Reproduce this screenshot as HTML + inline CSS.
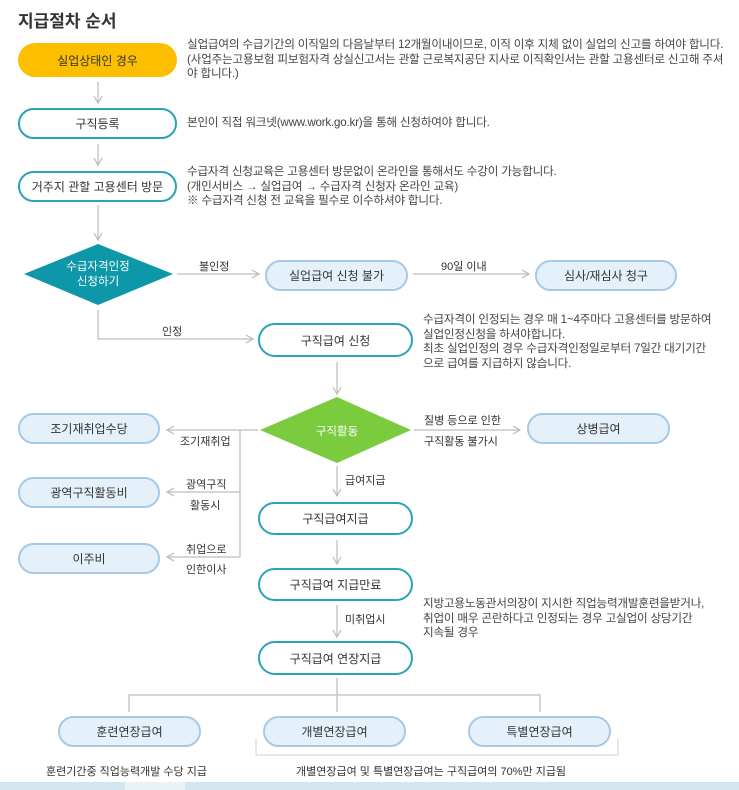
<!DOCTYPE html>
<html><head><meta charset="utf-8"><style>
body{margin:0;width:739px;height:790px;background:#fff;position:relative;overflow:hidden;font-family:"Liberation Sans","Noto Sans CJK KR",sans-serif;color:#333}
.b{position:absolute;box-sizing:border-box;border-radius:17px;display:flex;align-items:center;justify-content:center;font-size:12px;color:#333}
.w{border:2px solid #2aa3b8;background:#fff}
.l{border:2px solid #a7c8e6;background:#e4f1fa}
.t{position:absolute;font-size:11.6px;line-height:14.5px;color:#444;white-space:nowrap;letter-spacing:-0.2px}
.s{position:absolute;font-size:11px;color:#333;white-space:nowrap}
</style></head><body>
<div style="position:absolute;left:18px;top:7px;font-size:17px;font-weight:bold;color:#333">지급절차 순서</div>
<svg width="739" height="790" style="position:absolute;left:0;top:0">
<defs><marker id="a" markerWidth="10" markerHeight="10" refX="8" refY="5" orient="auto" markerUnits="userSpaceOnUse"><path d="M1,1 L8,5 L1,9" fill="none" stroke="#bbb" stroke-width="1.2"/></marker></defs>
<g stroke="#c8c8c8" stroke-width="1.5" fill="none">
<line x1="98" y1="82" x2="98" y2="103" marker-end="url(#a)"/>
<line x1="98" y1="144" x2="98" y2="165" marker-end="url(#a)"/>
<line x1="98" y1="205" x2="98" y2="240" marker-end="url(#a)"/>
<line x1="177" y1="274" x2="259" y2="274" marker-end="url(#a)"/>
<line x1="413" y1="274" x2="529" y2="274" marker-end="url(#a)"/>
<polyline points="98,310 98,339 253,339" marker-end="url(#a)"/>
<line x1="337" y1="362" x2="337" y2="394" marker-end="url(#a)"/>
<line x1="414" y1="430" x2="520" y2="430" marker-end="url(#a)"/>
<line x1="258" y1="430" x2="167" y2="430" marker-end="url(#a)"/>
<line x1="240" y1="430" x2="240" y2="557"/>
<line x1="240" y1="492" x2="167" y2="492" marker-end="url(#a)"/>
<line x1="240" y1="557" x2="167" y2="557" marker-end="url(#a)"/>
<line x1="337" y1="466" x2="337" y2="496" marker-end="url(#a)"/>
<line x1="337" y1="540" x2="337" y2="564" marker-end="url(#a)"/>
<line x1="337" y1="605" x2="337" y2="637" marker-end="url(#a)"/>
<polyline points="337,678 337,712"/>
<polyline points="129,712 129,695 540,695 540,712"/>
<polyline points="256,738 256,755 618,755 618,738" stroke="#d0d0d0" stroke-width="1"/>
</g>
<polygon points="24,274 98,244 173,274 98,305" fill="#0d97a8"/>
<polygon points="260,430 337,397 411,430 337,463" fill="#7acb3e"/>
<text x="98" y="270" text-anchor="middle" fill="#fff" font-size="11.5" font-family="Liberation Sans,Noto Sans CJK KR,sans-serif">수급자격인정</text>
<text x="98" y="285" text-anchor="middle" fill="#fff" font-size="11.5" font-family="Liberation Sans,Noto Sans CJK KR,sans-serif">신청하기</text>
<text x="337" y="435" text-anchor="middle" fill="#fff" font-size="11.5" font-family="Liberation Sans,Noto Sans CJK KR,sans-serif">구직활동</text>
</svg>
<div class="b" style="left:18px;top:43px;width:159px;height:34px;background:#fcbf00">실업상태인 경우</div>
<div class="b w" style="left:18px;top:108px;width:159px;height:31px">구직등록</div>
<div class="b w" style="left:18px;top:171px;width:159px;height:31px">거주지 관할 고용센터 방문</div>
<div class="b l" style="left:265px;top:260px;width:143px;height:31px">실업급여 신청 불가</div>
<div class="b l" style="left:535px;top:260px;width:142px;height:31px">심사/재심사 청구</div>
<div class="b w" style="left:258px;top:323px;width:155px;height:34px">구직급여 신청</div>
<div class="b l" style="left:18px;top:413px;width:142px;height:31px">조기재취업수당</div>
<div class="b l" style="left:527px;top:413px;width:143px;height:31px">상병급여</div>
<div class="b l" style="left:18px;top:477px;width:142px;height:31px">광역구직활동비</div>
<div class="b l" style="left:18px;top:543px;width:142px;height:31px">이주비</div>
<div class="b w" style="left:258px;top:502px;width:155px;height:33px">구직급여지급</div>
<div class="b w" style="left:258px;top:568px;width:155px;height:33px">구직급여 지급만료</div>
<div class="b w" style="left:258px;top:641px;width:155px;height:34px">구직급여 연장지급</div>
<div class="b l" style="left:58px;top:716px;width:143px;height:31px">훈련연장급여</div>
<div class="b l" style="left:263px;top:716px;width:143px;height:31px">개별연장급여</div>
<div class="b l" style="left:468px;top:716px;width:143px;height:31px">특별연장급여</div>
<div class="t" style="left:187px;top:38px">실업급여의 수급기간의 이직일의 다음날부터 12개월이내이므로, 이직 이후 지체 없이 실업의 신고를 하여야 합니다.<br>(사업주는고용보험 피보험자격 상실신고서는 관할 근로복지공단 지사로 이직확인서는 관할 고용센터로 신고해 주셔<br>야 합니다.)</div>
<div class="t" style="left:187px;top:116px">본인이 직접 워크넷(www.work.go.kr)을 통해 신청하여야 합니다.</div>
<div class="t" style="left:187px;top:165px">수급자격 신청교육은 고용센터 방문없이 온라인을 통해서도 수강이 가능합니다.<br>(개인서비스 → 실업급여 → 수급자격 신청자 온라인 교육)<br>※ 수급자격 신청 전 교육을 필수로 이수하셔야 합니다.</div>
<div class="t" style="left:423px;top:313px">수급자격이 인정되는 경우 매 1~4주마다 고용센터를 방문하여<br>실업인정신청을 하셔야합니다.<br>최초 실업인정의 경우 수급자격인정일로부터 7일간 대기기간<br>으로 급여를 지급하지 않습니다.</div>
<div class="t" style="left:423px;top:597px">지방고용노동관서의장이 지시한 직업능력개발훈련을받거나,<br>취업이 매우 곤란하다고 인정되는 경우 고실업이 상당기간<br>지속될 경우</div>
<div class="s" style="left:199px;top:258px">불인정</div>
<div class="s" style="left:441px;top:258px">90일 이내</div>
<div class="s" style="left:162px;top:323px">인정</div>
<div class="s" style="left:424px;top:412px">질병 등으로 인한</div>
<div class="s" style="left:424px;top:433px">구직활동 불가시</div>
<div class="s" style="left:180px;top:433px">조기재취업</div>
<div class="s" style="left:186px;top:476px">광역구직</div>
<div class="s" style="left:190px;top:497px">활동시</div>
<div class="s" style="left:186px;top:541px">취업으로</div>
<div class="s" style="left:186px;top:561px">인한이사</div>
<div class="s" style="left:345px;top:472px">급여지급</div>
<div class="s" style="left:345px;top:611px">미취업시</div>
<div class="s" style="left:46px;top:763px">훈련기간중 직업능력개발 수당 지급</div>
<div class="s" style="left:296px;top:763px">개별연장급여 및 특별연장급여는 구직급여의 70%만 지급됨</div>
<div style="position:absolute;left:0;top:782px;width:739px;height:8px;background:#d3e6f0"></div>
<div style="position:absolute;left:125px;top:782px;width:60px;height:8px;background:#e8f2f7"></div>
</body></html>
